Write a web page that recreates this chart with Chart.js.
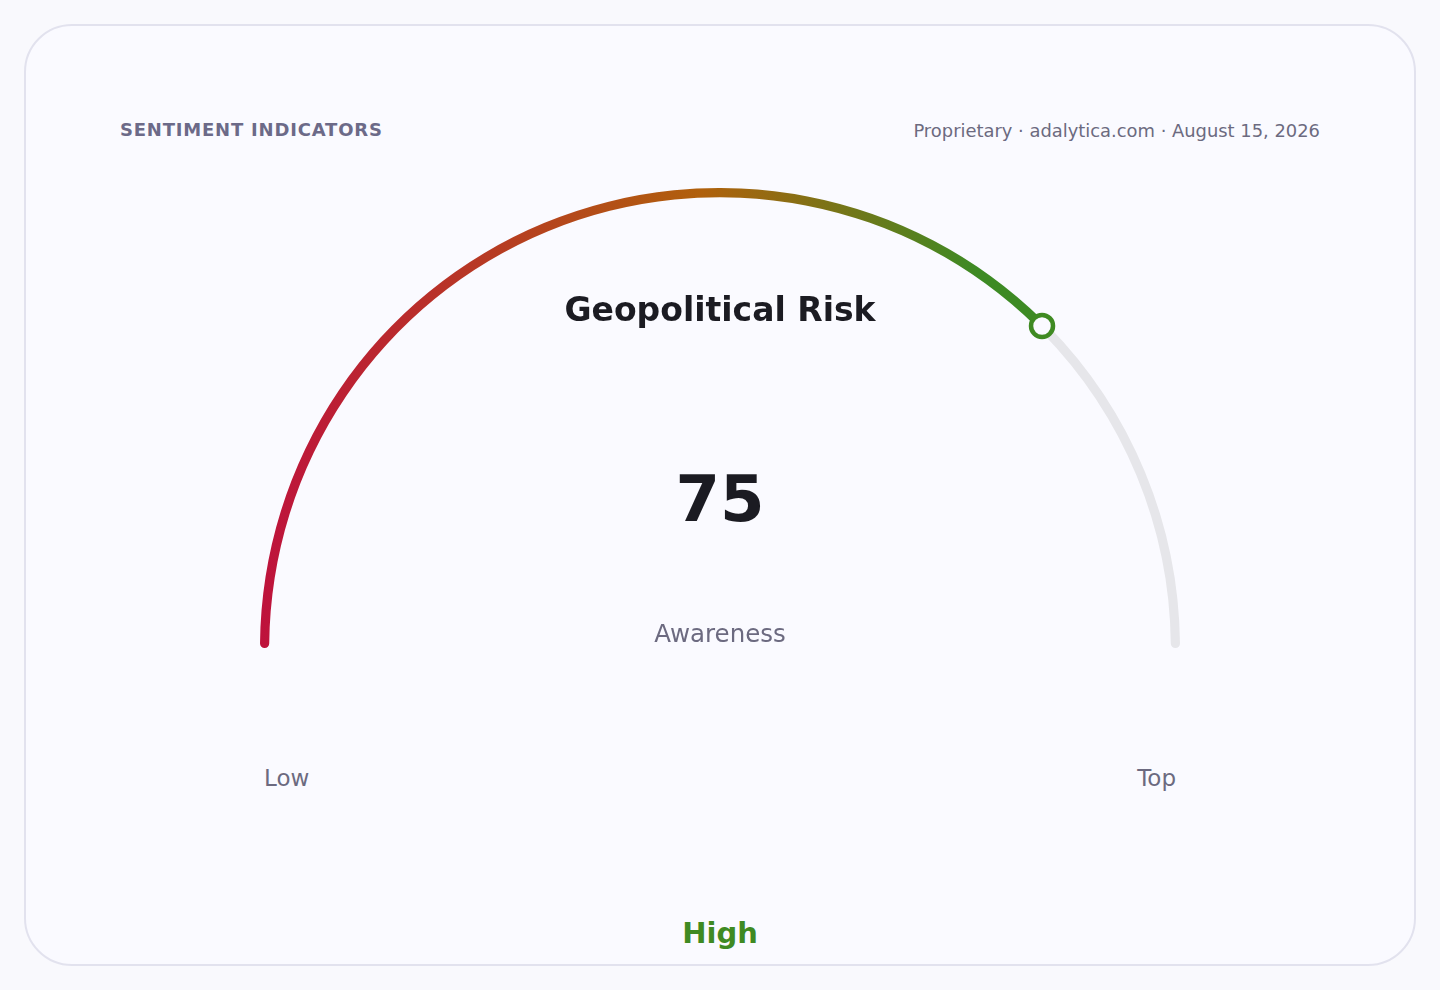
<!DOCTYPE html>
<html>
<head>
<meta charset="utf-8">
<script src="https://cdn.jsdelivr.net/npm/chart.js@4.4.1/dist/chart.umd.min.js"></script>
<style>
    html, body {
        margin: 0;
        padding: 0;
        background: #f9f9fd;
        font-family: 'DejaVu Sans', sans-serif;
    }
    .card {
        position: absolute;
        left: 24px;
        top: 24px;
        width: 1388px;
        height: 938px;
        border: 2px solid #e2e2ee;
        border-radius: 48px;
        background: #fafaff;
    }
    .txt {
        position: absolute;
        white-space: nowrap;
    }
    #header-left {
        left: 120px;
        top: 119px;
        font-size: 18px;
        font-weight: bold;
        letter-spacing: 0.8px;
        color: #6c6a88;
    }
    #header-right {
        right: 120px;
        top: 120px;
        font-size: 17.9px;
        color: #6c6a80;
    }
    #gauge-wrap {
        position: absolute;
        left: 260px;
        top: 188px;
        width: 920px;
        height: 460px;
    }
    #gauge-title {
        left: 0; width: 1440px; text-align: center;
        top: 290px;
        font-size: 33px;
        font-weight: bold;
        color: #1b1b22;
    }
    #gauge-value {
        left: 0; width: 1440px; text-align: center;
        top: 462px;
        font-size: 64px;
        font-weight: bold;
        color: #1b1b22;
    }
    #gauge-sub {
        left: 0; width: 1440px; text-align: center;
        top: 619px;
        font-size: 24.5px;
        color: #6c6a80;
    }
    #tick-low {
        left: 264px;
        top: 765px;
        font-size: 23px;
        color: #6c6a80;
    }
    #tick-top {
        right: 264px;
        top: 765px;
        font-size: 23px;
        color: #6c6a80;
    }
    #gauge-rating {
        left: 0; width: 1440px; text-align: center;
        top: 916px;
        font-size: 29px;
        font-weight: bold;
        color: #3f8a22;
    }
</style>
</head>
<body>
<div class="card"></div>
<div class="txt" id="header-left"></div>
<div class="txt" id="header-right"></div>
<div id="gauge-wrap"><canvas id="gauge-chart"></canvas></div>
<div class="txt" id="gauge-title"></div>
<div class="txt" id="gauge-value"></div>
<div class="txt" id="gauge-sub"></div>
<div class="txt" id="tick-low"></div>
<div class="txt" id="tick-top"></div>
<div class="txt" id="gauge-rating"></div>

<script>
// 게이지 데이터
const gaugeLabels = ['Geopolitical Risk', 'Remaining'];
const gaugeMax = 100;
const gaugeValue = 75;
const gaugeValues = [gaugeValue, gaugeMax - gaugeValue];
const tickLabels = ['Low', 'Top'];
const ratingLabel = 'High';
const subLabel = 'Awareness';
const headerTitle = 'SENTIMENT INDICATORS';
const headerSource = 'Proprietary · adalytica.com · August 15, 2026';

const gradientStops = ['#be123c', '#b0600c', '#3d8a24'];
const trackColor = '#e6e6ea';
const markerColor = '#3f8a22';

document.getElementById('header-left').textContent = headerTitle;
document.getElementById('header-right').textContent = headerSource;
document.getElementById('gauge-title').textContent = gaugeLabels[0];
document.getElementById('gauge-value').textContent = gaugeValue;
document.getElementById('gauge-sub').textContent = subLabel;
document.getElementById('tick-low').textContent = tickLabels[0];
document.getElementById('tick-top').textContent = tickLabels[1];
document.getElementById('gauge-rating').textContent = ratingLabel;

// 가로 그라데이션 (왼쪽 빨강 -> 위쪽 주황 -> 오른쪽 초록)
function arcColor(context) {
    if (context.dataIndex !== 0) return trackColor;
    const chart = context.chart;
    const area = chart.chartArea;
    if (!area) return gradientStops[0];
    const g = chart.ctx.createLinearGradient(area.left, 0, area.right, 0);
    g.addColorStop(0, gradientStops[0]);
    g.addColorStop(0.48, gradientStops[1]);
    g.addColorStop(0.78, gradientStops[2]);
    g.addColorStop(1, gradientStops[2]);
    return g;
}

// 값 위치에 동그라미 마커
const markerPlugin = {
    id: 'marker',
    afterDatasetsDraw(chart) {
        const arc = chart.getDatasetMeta(0).data[0];
        if (!arc) return;
        const r = (arc.outerRadius + arc.innerRadius) / 2;
        const x = arc.x + Math.cos(arc.endAngle) * r;
        const y = arc.y + Math.sin(arc.endAngle) * r;
        const c = chart.ctx;
        c.save();
        c.beginPath();
        c.arc(x, y, 11, 0, Math.PI * 2);
        c.fillStyle = '#fafaff';
        c.fill();
        c.lineWidth = 4.5;
        c.strokeStyle = markerColor;
        c.stroke();
        c.restore();
    }
};

const ctxGauge = document.getElementById('gauge-chart').getContext('2d');
const gaugeChart = new Chart(ctxGauge, {
    type: 'doughnut',
    data: {
        labels: gaugeLabels,
        datasets: [{
            data: gaugeValues,
            backgroundColor: arcColor,
            borderWidth: 0,
            borderRadius: 4.5
        }]
    },
    options: {
        responsive: true,
        maintainAspectRatio: false,
        animation: false,
        rotation: -90,
        circumference: 180,
        cutout: '98%',
        layout: { padding: 0 },
        events: [],
        plugins: {
            legend: { display: false },
            tooltip: { enabled: false }
        }
    },
    plugins: [markerPlugin]
});
</script>
</body>
</html>
